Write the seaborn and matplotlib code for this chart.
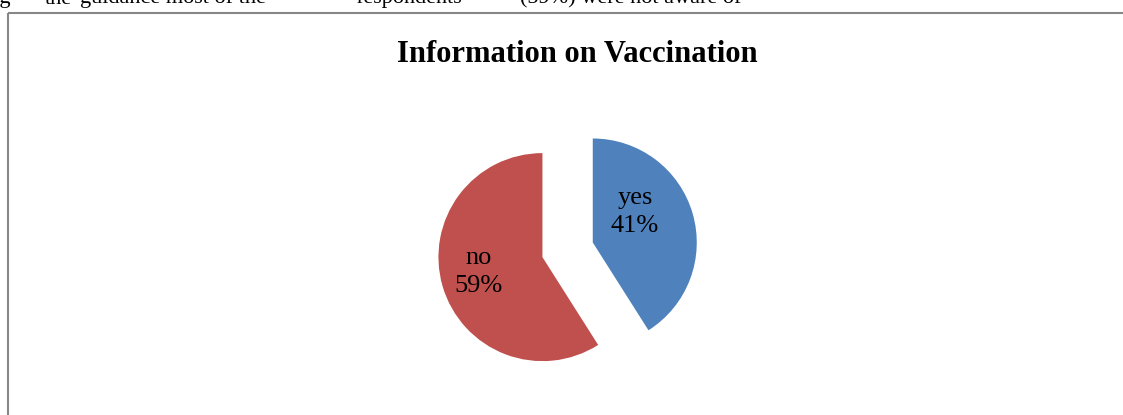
import matplotlib
matplotlib.use("Agg")
import matplotlib.pyplot as plt
from matplotlib.lines import Line2D
import seaborn as sns

# Survey answers
categories = ["yes", "no"]
shares = [41, 59]
title = "Information on Vaccination"

sns.set_theme(style="white")
plt.rcParams["font.family"] = ["Liberation Serif", "DejaVu Serif"]
palette = sns.color_palette(["#4F81BD", "#C0504D"])

W, H, DPI = 1123, 415, 100
fig = plt.figure(figsize=(W / DPI, H / DPI), dpi=DPI)
fig.patch.set_facecolor("white")
ax = fig.add_axes([0, 0, 1, 1])

wedges, _ = ax.pie(
    shares,
    colors=palette,
    startangle=90,
    counterclock=False,
    explode=[0.252, 0.252],
    radius=1.0,
    wedgeprops=dict(linewidth=0),
)

# one data unit = pie radius in pixels; pie centre placed in figure pixels
r_px = 104.0
cx, cy = 567.6, H - 249.8
ax.set_xlim(-cx / r_px, (W - cx) / r_px)
ax.set_ylim(-cy / r_px, (H - cy) / r_px)
ax.set_aspect("equal")
ax.axis("off")

# label placement relative to each wedge's own centre
label_offsets = [(0.407, 0.291), (-0.611, -0.144)]
for w, cat, val, (dx, dy) in zip(wedges, categories, shares, label_offsets):
    x0, y0 = w.center
    ax.text(x0 + dx, y0 + dy, f"{cat}\n{val}%", ha="center", va="center",
            fontsize=19, color="black", linespacing=1.38)

fig.text(577.5 / W, 1 - 61.5 / H, title, ha="center", va="baseline",
         fontsize=22, fontweight="bold", color="black")

# chart frame (top and left edges)
frame_kw = dict(transform=fig.transFigure, color="#878787", lw=1.5,
                solid_capstyle="butt")
y_top = 1 - 13 / H
fig.add_artist(Line2D([8 / W, 1], [y_top, y_top], **frame_kw))
fig.add_artist(Line2D([8 / W, 8 / W], [0, y_top], **frame_kw))

# body text line running above the chart, only its lower edge falls inside
for x_px, piece in [(-17, "ing"), (45, "the"), (80, "guidance most of the"),
                    (357, "respondents"), (520, "(59%) were not aware of")]:
    fig.text(x_px / W, 1 - 3.5 / H, piece, ha="left", va="baseline",
             fontsize=16, color="black")

fig.savefig("out.png", dpi=DPI)
